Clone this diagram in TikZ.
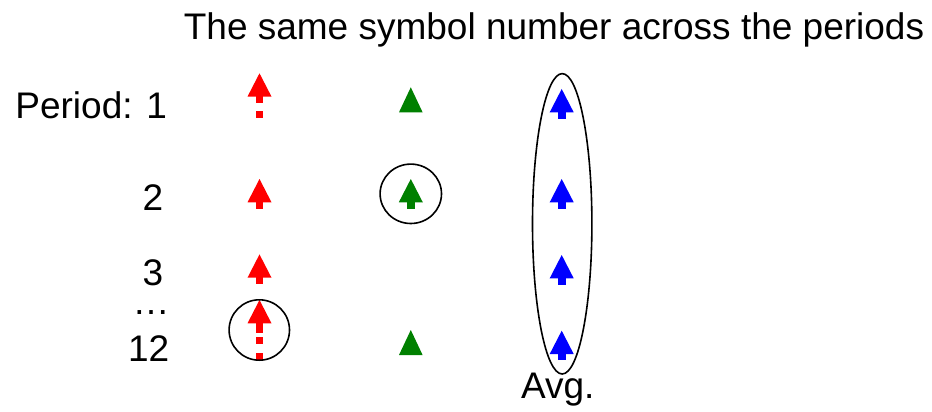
\documentclass[tikz,border=0pt]{standalone}
\usepackage{fontspec}
\setmainfont{Liberation Sans}
\usetikzlibrary{shapes.geometric}
\definecolor{sred}{RGB}{255,0,0}
\definecolor{sgreen}{RGB}{0,128,0}
\definecolor{sblue}{RGB}{0,0,255}
\tikzset{
  lbl/.style={inner sep=0pt, outer sep=0pt, font=\fontsize{37}{44}\selectfont},
  ring/.style={draw=black, line width=1.6pt, ellipse, inner sep=0pt},
  pics/headstem/.style={code={
    \fill[#1] (-12,0) -- (0,-23.3) -- (12,0) -- cycle;
    \fill[#1] (-3.8,-0.5) rectangle (3.8,6.3);
  }},
  pics/headonly/.style={code={
    \fill[#1] (-11.8,0) -- (0,-25) -- (11.8,0) -- cycle;
  }},
  pics/dashbit/.style={code={
    \fill[#1] (-3.8,0) rectangle (3.8,7.3);
  }},
}
\begin{document}
\begin{tikzpicture}[x=1pt,y=-1pt]
\useasboundingbox (0,0) rectangle (932,412);
% title and labels
\node[lbl, anchor=base] (title) at (554,40) {The same symbol number across the periods};
\node[lbl, anchor=base west] (p1) at (15.4,118.3) {Period: 1};
\node[lbl, anchor=base] (p2) at (153,210) {2};
\node[lbl, anchor=base] (p3) at (153,285) {3};
\node[lbl, anchor=base] (pd) at (151.2,314) {\smash{\char"2026}};
\node[lbl, anchor=base] (p12) at (148.6,361.7) {12};
\node[lbl, anchor=base] (avg) at (557.8,398.3) {Avg.};
% red column
\pic at (259.5,96.6) {headstem=sred};
\pic at (259.5,110.9) {dashbit=sred};
\pic at (259.5,202.3) {headstem=sred};
\pic at (259.5,277.7) {headstem=sred};
\pic at (259.5,323.3) {headstem=sred};
\fill[sred] (255.7,329) rectangle (263.3,332.7);
\pic at (259.5,336.5) {dashbit=sred};
\pic at (259.5,352.5) {dashbit=sred};
\node[ring, minimum width=60.4pt, minimum height=60.4pt] (c12) at (259.3,330) {};
% green column
\pic at (410.8,112.3) {headonly=sgreen};
\pic at (410.8,202.3) {headstem=sgreen};
\node[ring, minimum width=61.4pt, minimum height=59.4pt] (c2) at (410.8,193.8) {};
\pic at (410.8,355) {headonly=sgreen};
% blue column
\pic at (561.7,112.3) {headstem=sblue};
\pic at (561.7,202.3) {headstem=sblue};
\pic at (561.7,278.3) {headstem=sblue};
\pic at (561.7,354) {headstem=sblue};
\node[ring, minimum width=59.4pt, minimum height=300.4pt] (avgring) at (562.2,223.8) {};
\end{tikzpicture}
\end{document}
